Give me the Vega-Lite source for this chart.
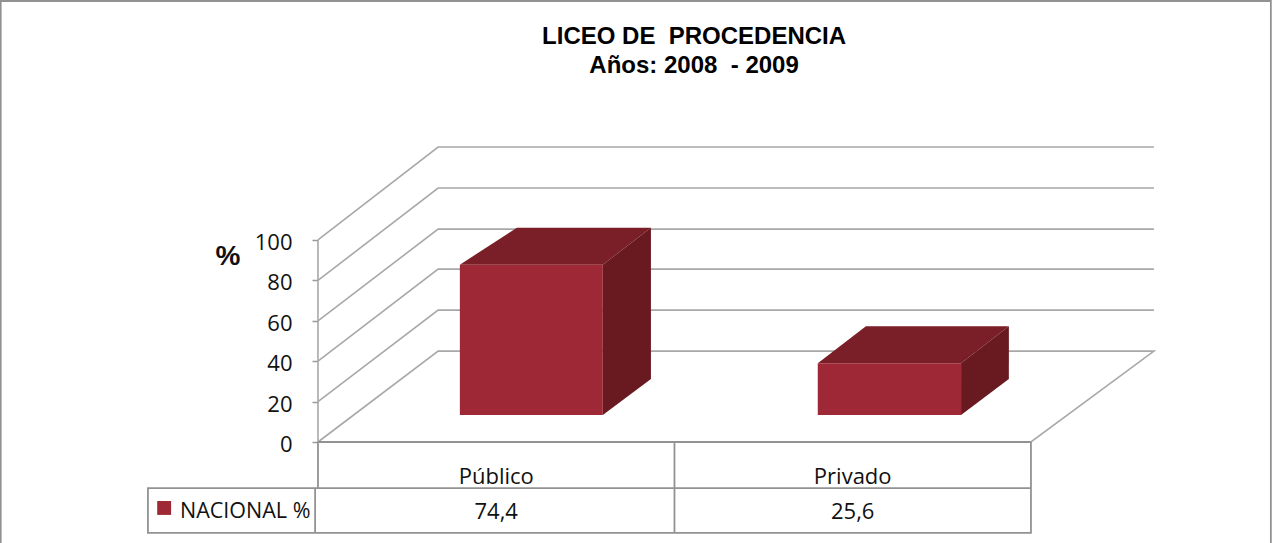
{
"$schema":"https://vega.github.io/schema/vega-lite/v6.json",
"width":1273,"height":543,
"autosize":"none",
"padding":0,
"background":"white",
"config":{"view":{"stroke":null}},
"datasets":{
"grid":[
{"id":"g0","o":1,"x":0,"y":0},{"id":"g0","o":2,"x":0.337,"y":45},{"id":"g0","o":3,"x":2.345,"y":45},{"id":"g0","o":4,"x":2.0,"y":0},{"id":"g0","o":5,"x":0,"y":0},
{"id":"g20","o":1,"x":0,"y":20},{"id":"g20","o":2,"x":0.337,"y":65.3},{"id":"g20","o":3,"x":2.345,"y":65.3},
{"id":"g40","o":1,"x":0,"y":40},{"id":"g40","o":2,"x":0.337,"y":85.6},{"id":"g40","o":3,"x":2.345,"y":85.6},
{"id":"g60","o":1,"x":0,"y":60},{"id":"g60","o":2,"x":0.337,"y":105.4},{"id":"g60","o":3,"x":2.345,"y":105.4},
{"id":"g80","o":1,"x":0,"y":80},{"id":"g80","o":2,"x":0.337,"y":125.7},{"id":"g80","o":3,"x":2.345,"y":125.7},
{"id":"g100","o":1,"x":0,"y":100},{"id":"g100","o":2,"x":0.337,"y":146},{"id":"g100","o":3,"x":2.345,"y":146},
{"id":"wall","o":1,"x":0,"y":0},{"id":"wall","o":2,"x":0,"y":100}
],
"tableLines":[
{"id":"t1","o":1,"x":0,"y":0},{"id":"t1","o":2,"x":0,"y":-22.8},
{"id":"t2","o":1,"x":1,"y":0},{"id":"t2","o":2,"x":1,"y":-45},
{"id":"t3","o":1,"x":2,"y":0},{"id":"t3","o":2,"x":2,"y":-45},{"id":"t3","o":3,"x":-0.477,"y":-45},{"id":"t3","o":4,"x":-0.477,"y":-22.8},{"id":"t3","o":5,"x":2,"y":-22.8},
{"id":"t4","o":1,"x":-0.008,"y":-22.8},{"id":"t4","o":2,"x":-0.008,"y":-45},
{"id":"t5","o":1,"x":0,"y":0},{"id":"t5","o":2,"x":2,"y":0},
{"id":"f","o":1,"x":-0.89,"y":-50},{"id":"f","o":2,"x":-0.89,"y":218.3},{"id":"f","o":3,"x":2.673,"y":218.3},{"id":"f","o":4,"x":2.673,"y":-50}
],
"barFront":[
{"cat":"Público","x":0.398,"x2":0.799,"y":13.4,"y2":87.8},
{"cat":"Privado","x":1.402,"x2":1.804,"y":13.4,"y2":39},
{"cat":"NACIONAL %","x":-0.451,"x2":-0.412,"y":-29.2,"y2":-36.1}
],
"barTop":[
{"cat":"Público","y":87.8,"x":0.398,"xe":0.799},{"cat":"Público","y":106,"x":0.558,"xe":0.934},
{"cat":"Privado","y":39,"x":1.402,"xe":1.804},{"cat":"Privado","y":57.3,"x":1.537,"xe":1.938}
],
"barSide":[
{"cat":"Público","x":0.799,"y":13.4,"ye":87.8},{"cat":"Público","x":0.934,"y":31.2,"ye":106},
{"cat":"Privado","x":1.804,"y":13.4,"ye":39},{"cat":"Privado","x":1.938,"y":31.2,"ye":57.3}
],
"titleText":[
{"t":"LICEO DE \u00a0PROCEDENCIA","x":1.055,"y":200.5},
{"t":"Años: 2008 \u00a0- 2009","x":1.055,"y":186}
],
"labels":[
{"t":"Público","x":0.5,"y":-17.2},
{"t":"Privado","x":1.5,"y":-17.2},
{"t":"74,4","x":0.5,"y":-34.5},
{"t":"25,6","x":1.5,"y":-34.5}
]
},
"encoding":{
"x":{"type":"quantitative","scale":{"domain":[-0.892,2.679],"nice":false,"zero":false},"axis":null},
"y":{"type":"quantitative","scale":{"domain":[-50,218.8],"nice":false,"zero":false}}
},
"layer":[
{"data":{"name":"grid"},"mark":{"type":"line","stroke":"#a8a8a8","strokeWidth":1.6},
 "encoding":{"x":{"field":"x","type":"quantitative"},
 "y":{"field":"y","type":"quantitative","axis":{"values":[0,20,40,60,80,100],"offset":-318,"domain":false,"grid":false,"title":null,"tickColor":"#999999","tickSize":6,"tickWidth":1.5,"labelPadding":20,"labelFontSize":22,"labelFont":"Open Sans","labelColor":"#111111","labelOffset":2.5}},
 "detail":{"field":"id"},"order":{"field":"o"}}},
{"data":{"name":"tableLines"},"mark":{"type":"line","stroke":"#929292","strokeWidth":1.8},
 "encoding":{"x":{"field":"x","type":"quantitative"},"y":{"field":"y","type":"quantitative"},"detail":{"field":"id"},"order":{"field":"o"}}},
{"data":{"name":"barTop"},"mark":{"type":"area","orient":"horizontal","fill":"#7a1e27"},
 "encoding":{"y":{"field":"y","type":"quantitative","stack":null},"x":{"field":"x","type":"quantitative","stack":null},"x2":{"field":"xe"},"detail":{"field":"cat"}}},
{"data":{"name":"barSide"},"mark":{"type":"area","orient":"vertical","fill":"#681a20"},
 "encoding":{"x":{"field":"x","type":"quantitative","stack":null},"y":{"field":"y","type":"quantitative","stack":null},"y2":{"field":"ye"},"detail":{"field":"cat"}}},
{"data":{"name":"barFront"},"mark":{"type":"rect","color":"#9e2835"},
 "encoding":{"x":{"field":"x","type":"quantitative"},"x2":{"field":"x2"},"y":{"field":"y","type":"quantitative"},"y2":{"field":"y2"}}},
{"data":{"name":"titleText"},"mark":{"type":"text","font":"Liberation Sans","fontWeight":"bold","fontSize":24,"color":"#000000","align":"center","baseline":"middle"},
 "encoding":{"x":{"field":"x","type":"quantitative"},"y":{"field":"y","type":"quantitative"},"text":{"field":"t"}}},
{"data":{"name":"labels"},"mark":{"type":"text","font":"Open Sans","fontSize":22,"color":"#111111","align":"center","baseline":"middle"},
 "encoding":{"x":{"field":"x","type":"quantitative"},"y":{"field":"y","type":"quantitative"},"text":{"field":"t"}}},
{"data":{"values":[{"t":"NACIONAL %","x":-0.387,"y":-34.5}]},"mark":{"type":"text","font":"Open Sans","fontSize":21.5,"color":"#111111","align":"left","baseline":"middle"},
 "encoding":{"x":{"field":"x","type":"quantitative"},"y":{"field":"y","type":"quantitative"},"text":{"field":"t"}}},
{"data":{"values":[{"t":"%","x":-0.2525,"y":91.6}]},"mark":{"type":"text","font":"Liberation Sans","fontWeight":"bold","fontSize":28,"color":"#111111","align":"center","baseline":"middle"},
 "encoding":{"x":{"field":"x","type":"quantitative"},"y":{"field":"y","type":"quantitative"},"text":{"field":"t"}}}
]
}
